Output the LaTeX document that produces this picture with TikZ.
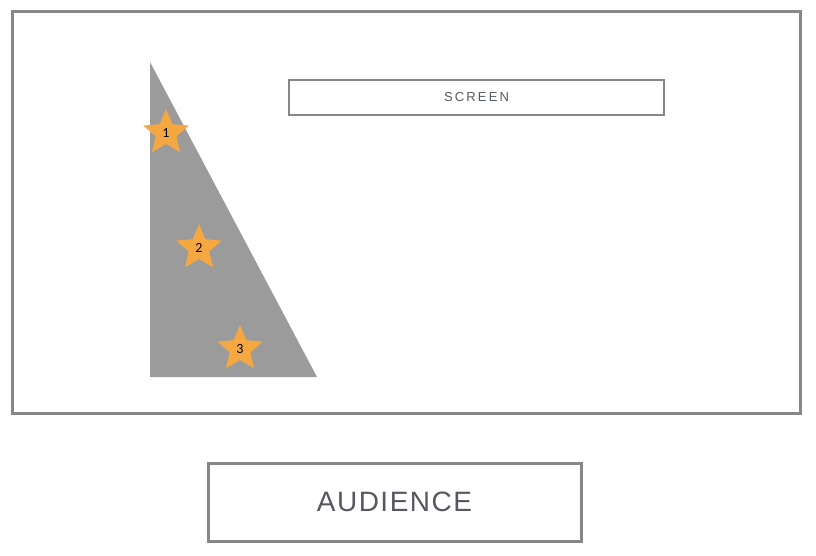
\documentclass[tikz,border=0pt]{standalone}
\usepackage{fontspec}
\setmainfont{Liberation Sans}
\newfontfamily\numfont{Carlito}
\usetikzlibrary{shapes.geometric}
\definecolor{framegray}{HTML}{878787}
\definecolor{stagegray}{HTML}{9A9B9A}
\definecolor{starorange}{HTML}{F5A742}
\definecolor{textgray}{HTML}{555860}
\tikzset{
  roombox/.style={draw=framegray, line width=3pt},
  seat/.style={star, star points=5, star point ratio=2.2, fill=starorange,
    minimum size=48pt, inner sep=0pt, font=\numfont\fontsize{14}{14}\selectfont}
}
\begin{document}
\begin{tikzpicture}[x=1pt, y=-1pt]
\useasboundingbox (0,0) rectangle (816,556);
\draw[roombox] (12,12) rectangle (800,413); % room
\node[draw=framegray, line width=1.6pt, minimum width=375pt, minimum height=35pt,
  text=textgray, font=\fontsize{13}{13}\selectfont] (screen) at (476.5,97.5)
  {S\,C\,R\,E\,E\,N}; % screen
\fill[stagegray] (150,62) coordinate (tip) -- (150,377) -- (317,377) -- cycle; % stage
\node[seat] (s1) at (166,133) {1};
\node[seat] (s2) at (199,248) {2};
\node[seat] (s3) at (240,349) {3};
\node[roombox, minimum width=373pt, minimum height=78pt, text=textgray,
  font=\fontsize{28}{28}\selectfont] (audience) at (394.5,502)
  {A\kern1.5pt U\kern1.5pt D\kern1.5pt I\kern1.5pt E\kern1.5pt N\kern1.5pt C\kern1.5pt E}; % audience
\end{tikzpicture}
\end{document}
